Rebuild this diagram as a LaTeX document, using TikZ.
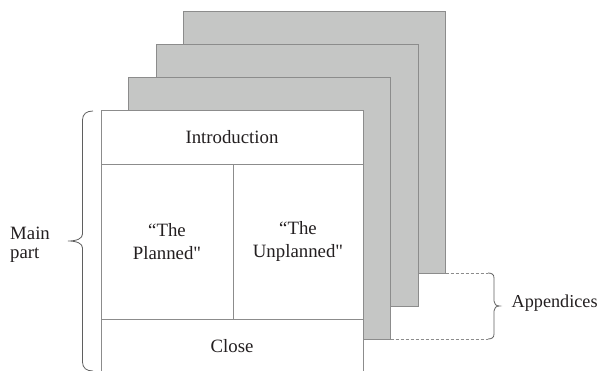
\documentclass[tikz,border=0pt]{standalone}
\usepackage{fontspec}
\setmainfont{Liberation Serif}[Ligatures=TeXOff]
\usetikzlibrary{positioning}
\definecolor{SheetGray}{RGB}{197,198,197}
\definecolor{EdgeGray}{RGB}{140,140,140}
\definecolor{BraceGray}{RGB}{95,95,95}
\definecolor{InkBlack}{RGB}{35,31,32}

\tikzset{
    sheet/.style={draw=EdgeGray, line width=0.9pt, fill=SheetGray, minimum width=262pt,
        minimum height=262pt, inner sep=0pt, outer sep=0pt, anchor=north west},
    cell/.style={draw=EdgeGray, line width=0.9pt, fill=white, inner sep=0pt, outer sep=0pt,
        anchor=north west, align=center, text=InkBlack, font=\fontsize{18.8}{22.5}\selectfont},
    sidetext/.style={inner sep=0pt, text=InkBlack, font=\fontsize{18.8}{18.5}\selectfont},
    bracket/.style={draw=BraceGray, line width=0.8pt},
    gap/.style={draw=EdgeGray, line width=0.8pt, dash pattern=on 3pt off 2pt}
}

\begin{document}
\begin{tikzpicture}[x=1pt, y=1pt]
    \useasboundingbox (0,0) rectangle (600,370);

    % Appendix sheets stacked behind the main document
    % Each one sits 27.5 right and 33 up from the one in front
    \foreach \k in {3,2,1} {
        \node[sheet] (sheet\k) at (101+27.5*\k, 260+33*\k) {};
    }

    % Main document, split into its sections
    \node[cell, minimum width=262pt, minimum height=54pt] (intro) at (101,260) {Introduction};
    \node[cell, minimum width=132pt, minimum height=155pt] (planned) at (intro.south west) {“The\\Planned"};
    \node[cell, minimum width=130pt, minimum height=155pt] (unplanned) at (planned.north east) {“The\\Unplanned"};
    \node[cell, minimum width=262pt, minimum height=55pt] (close) at (planned.south west) {Close};

    % Dashed guides from the appendix corners to the brace
    \coordinate (apptop) at ([xshift=42.5pt]sheet3.south east);
    \coordinate (appbot) at (apptop |- sheet1.south east);
    \draw[gap] (sheet3.south east) -- (apptop);
    \draw[gap] (sheet1.south east) -- (appbot);

    % Brace over the main part (left)
    \draw[bracket] (93,259) .. controls (86.5,259) and (82.5,256) .. (82.5,250) -- (82.5,136)
        .. controls (82.5,131.5) and (77,129) .. (68,129)
        .. controls (77,129) and (82.5,126.5) .. (82.5,122) -- (82.5,8)
        .. controls (82.5,2) and (86.5,-1) .. (93,-1);

    % Brace over the appendices (right)
    \draw[bracket] (apptop) .. controls (492,97) and (494,95.5) .. (494,92) -- (494,69)
        .. controls (494,66) and (496,64) .. (499.5,64)
        .. controls (496,64) and (494,62) .. (494,59) -- (494,36)
        .. controls (494,32.5) and (492,31) .. (appbot);

    % Labels
    \node[sidetext, align=left, anchor=west] (mainlabel) at (10,125) {Main\\part};
    \node[sidetext, anchor=base west, font=\fontsize{18.2}{18.5}\selectfont] (applabel) at (511.5,63) {Appendices};
\end{tikzpicture}
\end{document}
